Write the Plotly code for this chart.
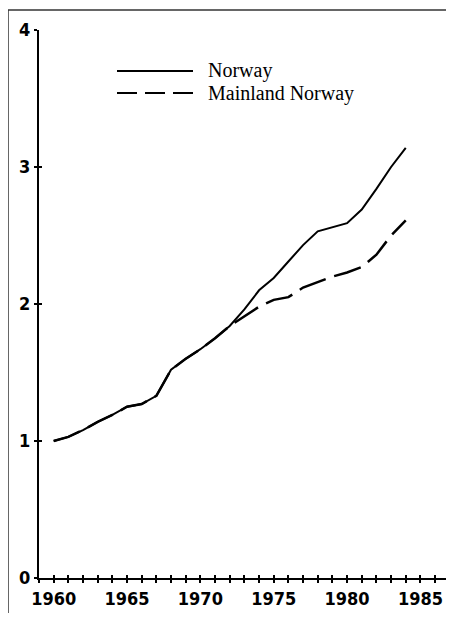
import plotly.graph_objects as go

# Output index, 1960 = 1
years = list(range(1960, 1985))
norway = [1.00, 1.03, 1.08, 1.14, 1.19, 1.25, 1.27, 1.33, 1.52, 1.60,
          1.67, 1.75, 1.84, 1.96, 2.10, 2.19, 2.31, 2.43, 2.53, 2.56,
          2.59, 2.69, 2.84, 3.00, 3.14]
mainland = [1.00, 1.03, 1.08, 1.14, 1.19, 1.25, 1.27, 1.33, 1.52, 1.60,
            1.67, 1.75, 1.84, 1.91, 1.98, 2.03, 2.05, 2.12, 2.16, 2.20,
            2.23, 2.27, 2.36, 2.50, 2.61]

x_ticks = list(range(1959, 1989))
x_labels = [str(y) if y % 5 == 0 else "" for y in x_ticks]
y_ticks = [0, 1, 2, 3, 4]

# page body has an 8px margin all round; keep the figure inside the window
OFF = 8
W, H = 454 - 2 * OFF, 621 - 2 * OFF
L, R, T, B = 39 - OFF, 0, 30 - OFF, H - (578 - OFF)
PX_PER_YEAR = 14.67
X_RANGE = [1959, 1959 + (W - L - R) / PX_PER_YEAR]

TICK_FONT = dict(family="Liberation Sans Narrow, Arial Narrow, DejaVu Sans Condensed, sans-serif",
                 size=18, color="black", weight="bold")
SERIF = dict(family="Liberation Serif, Times New Roman, serif", size=20, color="black")


def px2paper(px, py):
    # px, py in reference-image pixels
    return (px - OFF - L) / (W - L - R), (H - B - (py - OFF)) / (H - T - B)


fig = go.Figure()
fig.add_trace(go.Scatter(x=years, y=mainland, mode="lines", name="Mainland Norway",
                         line=dict(color="black", width=2.5, dash="28px,9px")))
fig.add_trace(go.Scatter(x=years, y=norway, mode="lines", name="Norway",
                         line=dict(color="black", width=2)))
# ghost trace so the crossing-tick axes get drawn
fig.add_trace(go.Scatter(x=[1959], y=[0], xaxis="x2", yaxis="y2", mode="lines",
                         showlegend=False, hoverinfo="skip", line=dict(width=0)))

axis_common = dict(showgrid=False, zeroline=False, showline=True, linecolor="black",
                   linewidth=2, tickcolor="black", tickwidth=1.5)
overlay_common = dict(showticklabels=False, showgrid=False, zeroline=False, showline=False,
                      ticks="inside", ticklen=3, tickcolor="black", tickwidth=1.5)
fig.update_layout(
    width=W, height=H,
    template="none",
    paper_bgcolor="white", plot_bgcolor="white",
    margin=dict(l=L, r=R, t=T, b=B),
    showlegend=False,
    xaxis=dict(range=X_RANGE, tickvals=x_ticks, ticktext=x_labels, ticks="outside",
               ticklen=3, tickfont=TICK_FONT, automargin=False, **axis_common),
    yaxis=dict(range=[0, 4], tickvals=y_ticks, ticks="outside", ticklen=3,
               tickfont=TICK_FONT, automargin=False, **axis_common),
    # second pair of axes only to make the ticks cross the axis lines
    xaxis2=dict(range=X_RANGE, overlaying="x", anchor="y", side="bottom",
                tickvals=x_ticks, **overlay_common),
    yaxis2=dict(range=[0, 4], overlaying="y", anchor="x", side="left",
                tickvals=y_ticks, **overlay_common),
)

# outer frame of the scanned page: top and left edges only
fx0, fy1 = px2paper(8, 10)
fx1, _ = px2paper(460, 10)
_, fy0 = px2paper(8, 630)
frame = dict(color="#333333", width=1.5)
fig.add_shape(type="line", xref="paper", yref="paper", x0=fx0, x1=fx1, y0=fy1, y1=fy1, line=frame)
fig.add_shape(type="line", xref="paper", yref="paper", x0=fx0, x1=fx0, y0=fy0, y1=fy1, line=frame)

# hand-drawn legend
for py, dashed, label in [(71, False, "Norway"), (93, True, "Mainland Norway")]:
    x0, y0 = px2paper(117, py)
    x1, _ = px2paper(193, py)
    fig.add_shape(type="line", xref="paper", yref="paper", x0=x0, x1=x1, y0=y0, y1=y0,
                  line=dict(color="black", width=2.2, dash="20px,8px" if dashed else "solid"))
    tx, _ = px2paper(206, py)
    fig.add_annotation(xref="paper", yref="paper", x=tx, y=y0, text=label, showarrow=False,
                       xanchor="left", yanchor="middle", font=SERIF)

fig.write_html("out.html")
